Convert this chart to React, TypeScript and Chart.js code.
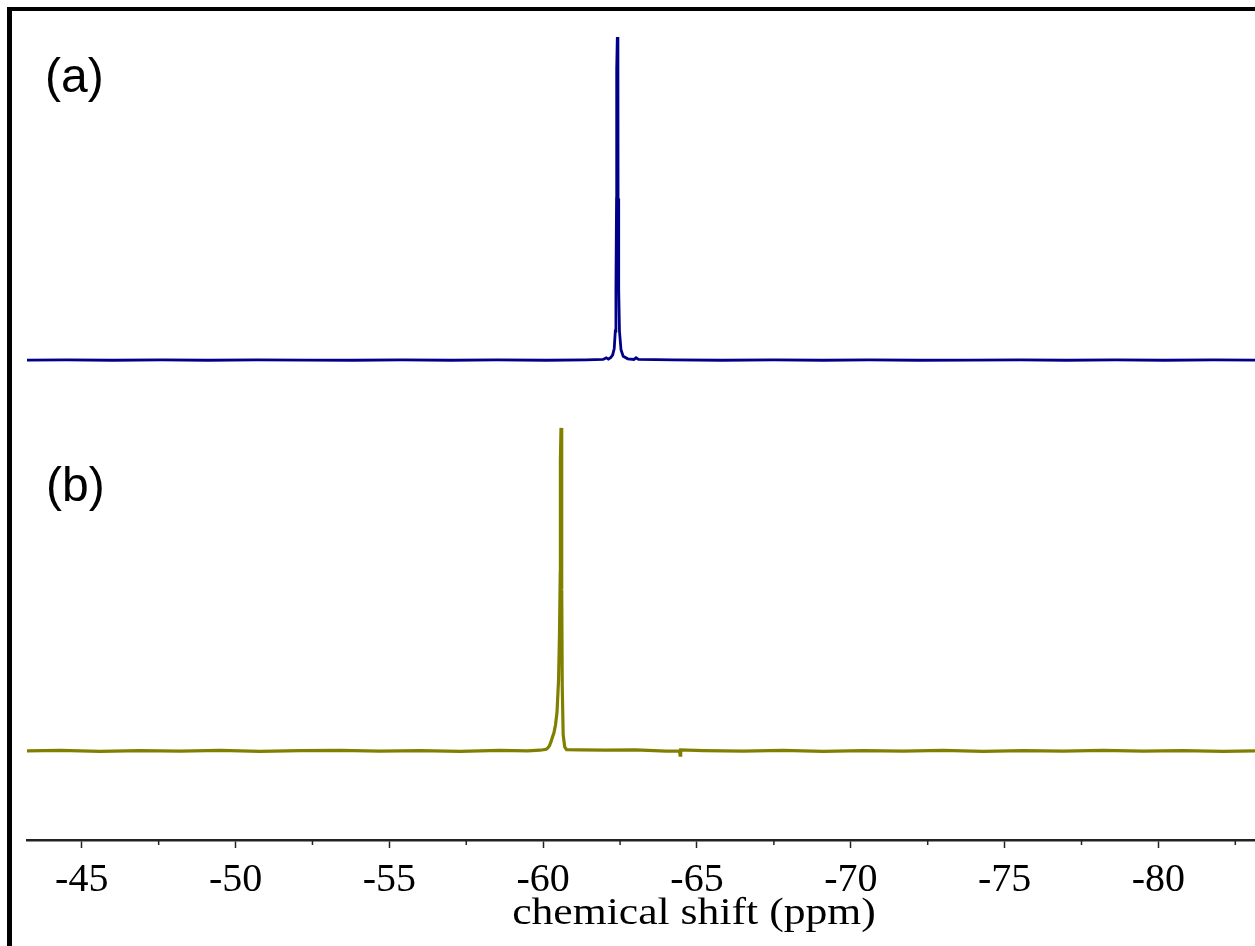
import React, { useEffect, useRef } from "react";
import { Chart, registerables } from "chart.js";

Chart.register(...registerables);

// Spectrum (a): [chemical shift ppm, normalised intensity]
const SPECTRUM_A: [number, number][] = [
  [-43.22, 0], [-44.5, 0.05], [-46.0, -0.05], [-47.6, 0.05], [-49.1, -0.05], [-50.7, 0.05],
  [-52.3, 0], [-53.8, -0.05], [-55.4, 0.05], [-57.0, -0.05], [-58.5, 0.05], [-60.1, -0.05],
  [-61.4, 0.05], [-61.95, 0.2], [-62.05, 0.7], [-62.12, 0.3], [-62.2, 0.8], [-62.26, 1.6],
  [-62.31, 3.6], [-62.345, 9], [-62.365, 22], [-62.385, 50], [-62.39, 90], [-62.41, 100],
  [-62.43, 90], [-62.435, 50], [-62.455, 22], [-62.48, 9], [-62.53, 3.2], [-62.6, 1.2],
  [-62.75, 0.4], [-62.95, 0.2], [-63.02, 0.7], [-63.1, 0.2], [-64.2, 0.05], [-65.8, -0.05],
  [-67.5, 0.05], [-69.1, -0.05], [-70.6, 0.05], [-72.2, -0.05], [-73.9, 0], [-75.5, 0.05],
  [-77.0, -0.05], [-78.6, 0.05], [-80.2, -0.05], [-81.8, 0.05], [-83.14, 0],
];

// Spectrum (b): [chemical shift ppm, normalised intensity]
const SPECTRUM_B: [number, number][] = [
  [-43.22, 0], [-44.3, 0.15], [-45.6, -0.15], [-46.9, 0.1], [-48.2, -0.1], [-49.5, 0.15],
  [-50.8, -0.15], [-52.1, 0.1], [-53.4, 0.15], [-54.7, -0.1], [-56.0, 0.1], [-57.3, -0.15],
  [-58.6, 0.15], [-59.5, 0], [-59.9, 0.2], [-60.1, 0.5], [-60.15, 0.9], [-60.2, 1.5],
  [-60.25, 2.7], [-60.3, 4.2], [-60.35, 5.6], [-60.4, 8], [-60.45, 12], [-60.5, 22],
  [-60.53, 36], [-60.555, 55], [-60.56, 90], [-60.58, 100], [-60.6, 90], [-60.605, 50],
  [-60.62, 20], [-60.65, 5], [-60.7, 1.2], [-60.76, 0.4], [-61.2, 0.3], [-62.0, 0.2],
  [-63.0, 0.3], [-64.0, -0.1], [-64.43, 0], [-64.45, -1.3], [-64.47, 0.3], [-65.2, 0.1],
  [-66.5, -0.1], [-67.8, 0.15], [-69.1, -0.15], [-70.4, 0.1], [-71.7, -0.1], [-73.0, 0.15],
  [-74.3, -0.15], [-75.6, 0.1], [-76.9, -0.1], [-78.2, 0.15], [-79.5, -0.1], [-80.8, 0.1],
  [-82.1, -0.15], [-83.14, 0],
];

const OFFSET_A = 148.6;
const OFFSET_B = 27.6;
const Y_MAX = 253.9;

const X_MIN = -83.14;
const X_MAX = -43.22;

const MAJOR_TICKS = [-45, -50, -55, -60, -65, -70, -75, -80];
const MAJOR_LABELS = ["-45", "-50", "-55", "-60", "-65", "-70", "-75", "-80"];
const MINOR_TICKS = [-47.5, -52.5, -57.5, -62.5, -67.5, -72.5, -77.5, -82.5];

const PANEL_LABELS = ["(a)", "(b)"];
const X_TITLE = "chemical shift (ppm)";

export default function App() {
  const canvasRef = useRef<HTMLCanvasElement | null>(null);

  useEffect(() => {
    const canvas = canvasRef.current;
    if (!canvas) return;

    const extras = {
      id: "extras",
      afterDraw(chart: any) {
        const ctx = chart.ctx as CanvasRenderingContext2D;
        const xs = chart.scales.x;
        const bottom = chart.chartArea.bottom;
        ctx.save();
        ctx.strokeStyle = "#222";
        ctx.lineWidth = 1.5;
        MINOR_TICKS.forEach((v) => {
          const px = xs.getPixelForValue(v);
          ctx.beginPath();
          ctx.moveTo(px, bottom + 1);
          ctx.lineTo(px, bottom + 5);
          ctx.stroke();
        });
        ctx.fillStyle = "#000";
        ctx.font = '48px "Liberation Sans", Arial, sans-serif';
        ctx.textBaseline = "alphabetic";
        ctx.textAlign = "left";
        ctx.fillText(PANEL_LABELS[0], 45, 92);
        ctx.fillText(PANEL_LABELS[1], 46, 501);
        // axis title (slightly widened like the reference lettering)
        ctx.font = '37px "Liberation Serif", "Times New Roman", serif';
        ctx.textAlign = "center";
        ctx.translate(694, 924);
        ctx.scale(1.18, 1);
        ctx.fillText(X_TITLE, 0, 0);
        ctx.restore();
      },
    };

    const chart = new Chart(canvas, {
      type: "line",
      data: {
        datasets: [
          {
            label: "a",
            data: SPECTRUM_A.map(([x, y]) => ({ x, y: y + OFFSET_A })),
            borderColor: "#000088",
            borderWidth: 2.8,
            pointRadius: 0,
            tension: 0,
            fill: false,
          },
          {
            label: "b",
            data: SPECTRUM_B.map(([x, y]) => ({ x, y: y + OFFSET_B })),
            borderColor: "#808000",
            borderWidth: 3.2,
            pointRadius: 0,
            tension: 0,
            fill: false,
          },
        ],
      },
      options: {
        responsive: false,
        animation: false,
        layout: { padding: { left: 27, right: 0, top: 20, bottom: 0 } },
        plugins: {
          legend: { display: false },
          tooltip: { enabled: false },
        },
        scales: {
          x: {
            type: "linear",
            reverse: true,
            min: X_MIN,
            max: X_MAX,
            afterBuildTicks: (scale: any) => {
              scale.ticks = MAJOR_TICKS.map((v) => ({ value: v }));
            },
            afterFit: (scale: any) => {
              scale.height = 106;
            },
            grid: {
              drawOnChartArea: false,
              drawTicks: true,
              tickLength: 8,
              tickWidth: 1.5,
              tickColor: "#222",
            },
            border: { display: true, color: "#222", width: 2.5 },
            ticks: {
              padding: 8,
              color: "#000",
              maxRotation: 0,
              autoSkip: false,
              font: { family: '"Liberation Serif", "Times New Roman", serif', size: 40 },
              callback: (v: any) => {
                const i = MAJOR_TICKS.indexOf(Number(v));
                return i >= 0 ? MAJOR_LABELS[i] : "";
              },
            },
            title: { display: false },
          },
          y: {
            display: false,
            min: 0,
            max: Y_MAX,
          },
        },
      },
      plugins: [extras],
    });

    return () => chart.destroy();
  }, []);

  return (
    <div style={{ position: "absolute", left: 0, top: 0, width: 1255, height: 946, background: "#fff", overflow: "hidden" }}>
      <div
        style={{
          position: "absolute",
          left: 7,
          top: 7,
          width: 1248,
          height: 939,
          borderLeft: "5px solid #000",
          borderTop: "4px solid #000",
          boxSizing: "border-box",
        }}
      />
      <canvas
        ref={canvasRef}
        width={1255}
        height={946}
        style={{ position: "absolute", left: 0, top: 0, width: 1255, height: 946 }}
      />
    </div>
  );
}
